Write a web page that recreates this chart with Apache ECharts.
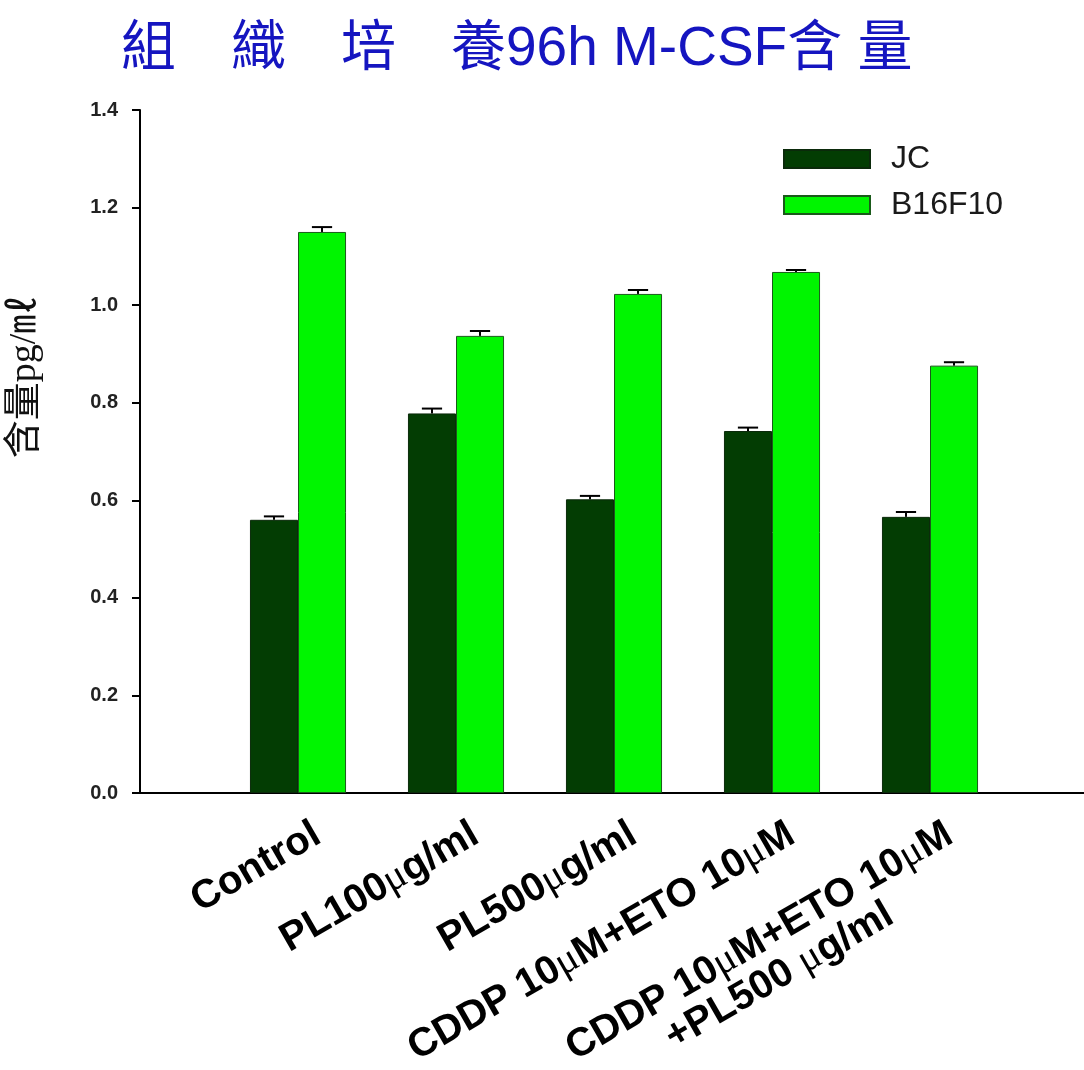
<!DOCTYPE html>
<html><head><meta charset="utf-8">
<script src="https://cdn.jsdelivr.net/npm/echarts@6/dist/echarts.min.js"></script>
<style>html,body{margin:0;padding:0;background:#fff}#c{width:1084px;height:1070px}</style>
</head><body><div id="c"></div>
<script>
const titleText = '組　織　培　養96h M-CSF含 量';
const yAxisName = '含量pg/㎖';
const categories = ['Control', 'PL100μg/ml', 'PL500μg/ml', 'CDDP 10μM+ETO 10μM', 'CDDP 10μM+ETO 10μM\n+PL500 μg/ml'];
const seriesNames = ['JC', 'B16F10'];
const jcValues = [0.560, 0.778, 0.602, 0.742, 0.566];
const jcErrors = [0.007, 0.010, 0.007, 0.007, 0.010];
const b16Values = [1.150, 0.937, 1.023, 1.068, 0.876];
const b16Errors = [0.010, 0.010, 0.008, 0.004, 0.007];
const yMin = 0, yMax = 1.4, yStep = 0.2;

const BAR_FRAC = 0.304;
const axisCats = [''].concat(categories, ['']);
const pad = arr => ['-'].concat(arr, ['-']);
const errData = (vals, errs) => vals.map((v, i) => [i + 1, v, errs[i]]);

function errRender(sign) {
  return function (params, api) {
    const x = api.value(0), v = api.value(1), e = api.value(2);
    const band = api.size([1, 0])[0];
    const off = sign * band * BAR_FRAC / 2;
    const p0 = api.coord([x, v]);
    const p1 = api.coord([x, v + e]);
    const cx = p0[0] + off;
    const half = band * 0.064;
    return {
      type: 'group',
      children: [
        { type: 'line', shape: { x1: cx, y1: p0[1], x2: cx, y2: p1[1] }, style: { stroke: '#000', lineWidth: 2 } },
        { type: 'line', shape: { x1: cx - half, y1: p1[1], x2: cx + half, y2: p1[1] }, style: { stroke: '#000', lineWidth: 2 } }
      ]
    };
  };
}

const labelFont = { fontFamily: "'Liberation Sans', Arial, sans-serif", fontWeight: 'bold', fontSize: 40, color: '#000' };
const muFont = { fontFamily: "'Liberation Serif', 'Times New Roman', serif", fontWeight: 'normal', fontSize: 40, color: '#000' };

const chart = echarts.init(document.getElementById('c'));
chart.setOption({
  backgroundColor: '#fff',
  animation: false,
  title: {
    text: titleText,
    left: 116, top: 17,
    textStyle: { fontSize: 55, fontWeight: 'normal', color: '#1515c0', fontFamily: "'Liberation Sans', 'Noto Sans CJK TC', sans-serif" }
  },
  legend: {
    data: seriesNames,
    orient: 'vertical',
    left: 783, top: 143,
    padding: 0,
    itemWidth: 86, itemHeight: 18, itemGap: 14,
    icon: 'rect',
    textStyle: { fontSize: 32, color: '#1a1a1a', fontFamily: "'Liberation Sans', Arial, sans-serif", padding: [0, 0, 0, 16] }
  },
  grid: { left: 140, right: -4, top: 110, bottom: 277, outerBoundsMode: 'none' },
  xAxis: {
    type: 'category',
    data: axisCats,
    boundaryGap: false,
    axisLine: { lineStyle: { color: '#000', width: 2 } },
    axisTick: { show: false },
    axisLabel: {
      interval: 0,
      rotate: 30,
      margin: 27,
      align: 'right',
      verticalAlign: 'top',
      padding: [0, -11, 0, 0],
      formatter: function (val) {
        if (!val) return '';
        return val.split('\n').map(function (ln, li) {
          const s = li === 0 ? 'a' : 'b';
          return ln.split('μ').map(function (p) { return p ? '{t' + s + '|' + p + '}' : ''; }).join('{m' + s + '|μ}');
        }).join('\n');
      },
      rich: {
        ta: Object.assign({ align: 'right' }, labelFont),
        ma: Object.assign({ align: 'right' }, muFont),
        tb: Object.assign({ align: 'center' }, labelFont),
        mb: Object.assign({ align: 'center' }, muFont)
      }
    },
    splitLine: { show: false }
  },
  yAxis: {
    type: 'value',
    min: yMin, max: yMax, interval: yStep,
    name: yAxisName,
    nameLocation: 'middle',
    nameRotate: 90,
    nameGap: 96,
    nameTextStyle: { fontSize: 38, color: '#111', fontFamily: "'Liberation Serif', 'Noto Sans CJK TC', serif", padding: [0, 0, 0, 149] },
    axisLine: { show: true, lineStyle: { color: '#000', width: 2 } },
    axisTick: { show: true, length: 8, lineStyle: { color: '#000', width: 2 } },
    axisLabel: { margin: 22, fontSize: 20, fontWeight: 'bold', color: '#222', fontFamily: "'Liberation Sans', Arial, sans-serif", formatter: v => v.toFixed(1) },
    splitLine: { show: false }
  },
  series: [
    { name: seriesNames[0], type: 'bar', data: pad(jcValues), barWidth: (BAR_FRAC * 100) + '%', barGap: '0%',
      itemStyle: { color: '#033d03', borderColor: '#0b2a0b', borderWidth: 1 } },
    { name: seriesNames[1], type: 'bar', data: pad(b16Values), barWidth: (BAR_FRAC * 100) + '%', barGap: '0%',
      itemStyle: { color: '#00f500', borderColor: '#1a5a1a', borderWidth: 1 } },
    { type: 'custom', name: 'errJC', data: errData(jcValues, jcErrors), renderItem: errRender(-1), z: 5, encode: { x: 0, y: 1 } },
    { type: 'custom', name: 'errB16', data: errData(b16Values, b16Errors), renderItem: errRender(1), z: 5, encode: { x: 0, y: 1 } }
  ]
});
</script>
</body></html>
